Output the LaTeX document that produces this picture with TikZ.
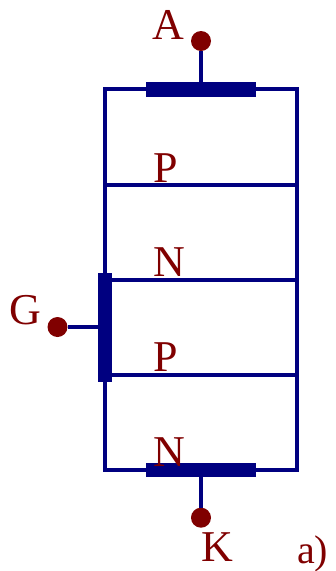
\documentclass[tikz,border=0pt]{standalone}
\usepackage{fontspec}
\setmainfont{Liberation Serif}
\definecolor{wire}{RGB}{0,0,128}
\definecolor{term}{RGB}{128,0,0}
\tikzset{
  wireline/.style={draw=wire,line width=4pt},
  hbar/.style={fill=wire,draw=none,inner sep=0pt,minimum width=110pt,minimum height=14.5pt},
  vbar/.style={fill=wire,draw=none,inner sep=0pt,minimum width=14.5pt,minimum height=109pt},
  dot/.style={circle,fill=term,draw=none,inner sep=0pt,minimum size=20pt},
  lbl/.style={text=term,anchor=base west,inner sep=0pt,font=\fontsize{44}{44}\selectfont},
  lblsmall/.style={text=term,anchor=base west,inner sep=0pt,font=\fontsize{40}{40}\selectfont}
}
\begin{document}
\begin{tikzpicture}[x=1pt,y=-1pt]
\useasboundingbox (0,0) rectangle (336,571);
% layer corners
\coordinate (tl) at (105,89);
\coordinate (tr) at (296.5,89);
\coordinate (bl) at (105,470);
\coordinate (br) at (296.5,470);
\coordinate (l1) at (105,184.5);
\coordinate (r1) at (296.5,184.5);
\coordinate (l2) at (105,279.5);
\coordinate (r2) at (296.5,279.5);
\coordinate (l3) at (105,374.5);
\coordinate (r3) at (296.5,374.5);
\draw[wireline,line join=miter] (tl) -- (tr) -- (br) -- (bl) -- cycle;
\draw[wireline] (l1) -- (r1);
\draw[wireline] (l2) -- (r2);
\draw[wireline] (l3) -- (r3);
% contacts
\node[hbar] (anode) at (201,89.5) {};
\node[hbar] (cathode) at (201,470) {};
\node[vbar] (gate) at (105.2,327) {};
% terminals
\node[dot] (tA) at (201,41) {};
\node[dot] (tG) at (57.5,327) {};
\node[dot] (tK) at (201,517.7) {};
\draw[wireline] (tA) -- (anode);
\draw[wireline] (tK) -- (cathode);
\draw[wireline] (tG) -- (gate);
% labels
\node[lbl] (la) at (152.5,39) {A};
\node[lbl] (lp1) at (153,182.7) {P};
\node[lbl] (ln1) at (153,276.7) {N};
\node[lbl] (lg) at (9,324) {G};
\node[lbl] (lp2) at (153,371) {P};
\node[lbl] (ln2) at (153,466.7) {N};
\node[lbl] (lk) at (201.5,561.5) {K};
\node[lblsmall] (lcap) at (297,563) {a)};
\end{tikzpicture}
\end{document}
